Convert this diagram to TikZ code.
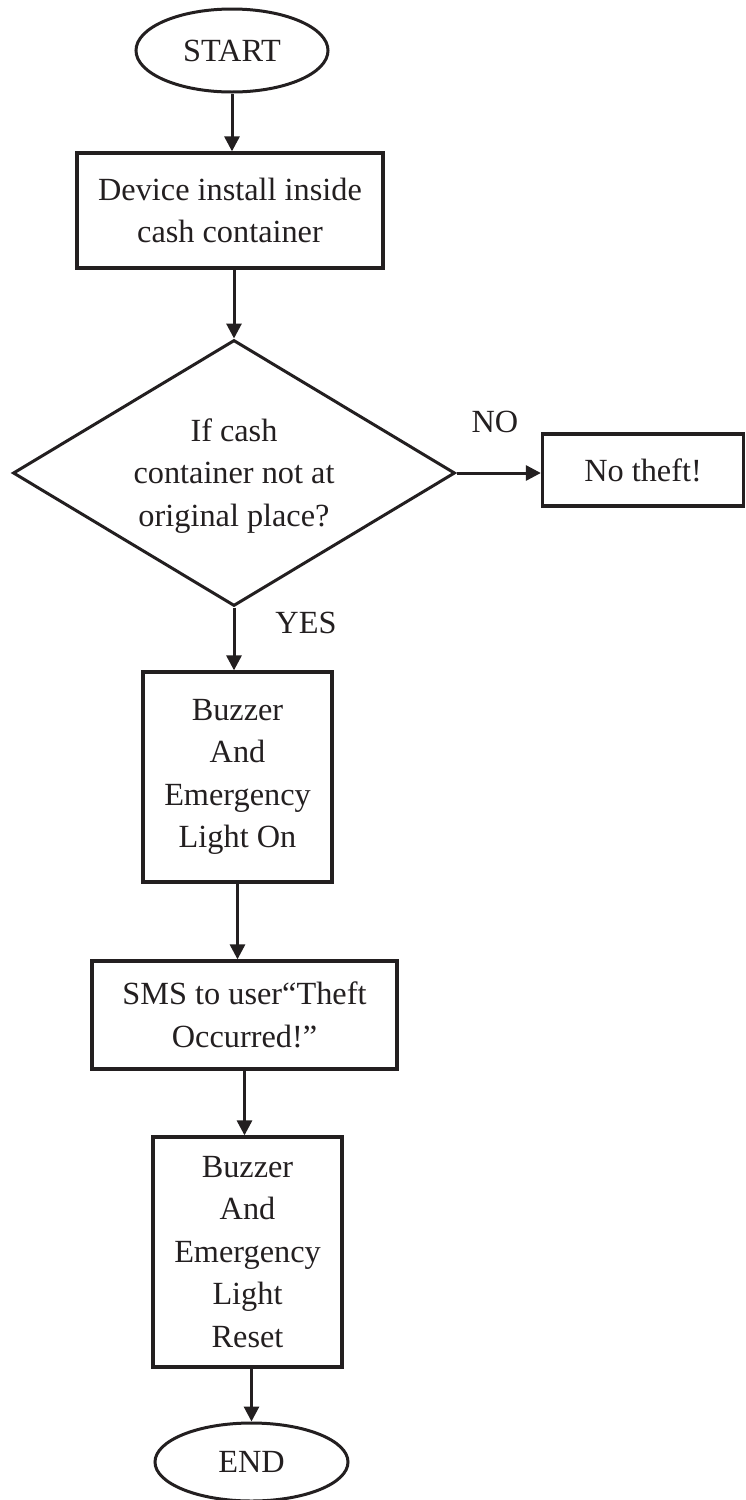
\documentclass[tikz,border=0pt]{standalone}
\usepackage{fontspec}
\setmainfont{Liberation Serif}
\usetikzlibrary{shapes.geometric,arrows.meta}
\definecolor{ink}{HTML}{231F20}
\begin{document}
\begin{tikzpicture}[x=1pt,y=-1pt,
  every node/.style={text=ink,font=\fontsize{32.3}{42.5}\selectfont},
  term/.style={ellipse,draw=ink,line width=3pt,inner sep=0pt},
  procbox/.style={rectangle,draw=ink,line width=3.3pt,inner sep=0pt,align=center},
  decision/.style={diamond,draw=ink,line width=3pt,inner sep=0pt},
  flow/.style={draw=ink,line width=3pt,-{Triangle[length=15pt,width=15pt]}},
  lbl/.style={inner sep=0pt}]
\useasboundingbox (0,0) rectangle (745,1500);
\fill[white] (0,0) rectangle (745,1500);

\node[term,minimum width=192,minimum height=83] (start) at (232,50.5) {START};
\node[procbox,minimum width=306,minimum height=115] (box1) at (230,210.5) {Device install inside\\cash container};
\node[decision,minimum width=442,minimum height=266] (dec) at (234,473) {};
\node[lbl,align=center] (dectext) at (234,476) {If cash\\container not at\\original place?};
\node[procbox,minimum width=201,minimum height=72] (nothe) at (643,470) {No theft!};
\node[procbox,minimum width=189,minimum height=210] (buzz1) at (237.5,777) {Buzzer\\And\\Emergency\\Light On};
\node[procbox,minimum width=305,minimum height=108] (sms) at (244.5,1015) {SMS to user\textquotedblleft Theft\\Occurred!\textquotedblright};
\node[procbox,minimum width=189,minimum height=230] (reset) at (247.5,1252) {Buzzer\\And\\Emergency\\Light\\Reset};
\node[term,minimum width=193,minimum height=78] (end) at (251.5,1462) {END};

\node[lbl] (no) at (495,422) {NO};
\node[lbl] (yes) at (306,623) {YES};

\draw[flow] (start.south) -- (start.south |- box1.north);
\draw[flow] (dec.north |- box1.south) -- (dec.north);
\draw[flow] (dec.east) -- (dec.east -| nothe.west);
\draw[flow] (dec.south) -- (dec.south |- buzz1.north);
\draw[flow] (buzz1.south) -- (buzz1.south |- sms.north);
\draw[flow] (sms.south) -- (sms.south |- reset.north);
\draw[flow] (end.north |- reset.south) -- (end.north);
\end{tikzpicture}
\end{document}
